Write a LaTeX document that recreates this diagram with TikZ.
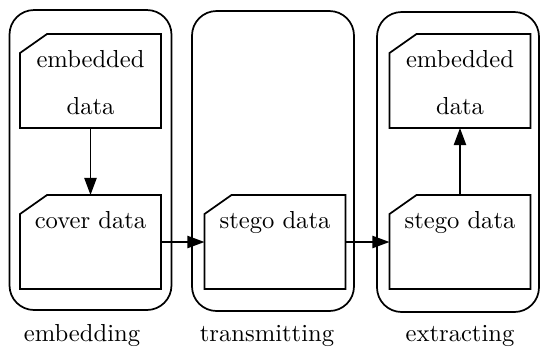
\documentclass[tikz,border=0pt]{standalone}
\usetikzlibrary{arrows.meta}

\begin{document}
\begin{tikzpicture}[x=0.4065pt, y=-0.4065pt,
	stage/.style={draw, line width=0.7pt, rounded corners=10pt, minimum width=162*\px, minimum height=300*\px},
	doc/.style={minimum width=140*\px, minimum height=93*\px, inner sep=0pt},
	doctext/.style={anchor=north, align=center, inner sep=0pt, yshift=-16*\px},
	flow/.style={line width=0.7pt, -{Triangle[length=7pt, width=5pt]}}]

\def\px{0.4065pt}

\path [use as bounding box] (0,0) rectangle (540,347);

% STAGES
\node [stage] (embedding) at (90.5,160) {};
\node [stage] (transmitting) at (273,161) {};
\node [stage] (extracting) at (458,162) {};

% DOCUMENTS
\node [doc, label={[doctext]north:embedded\\[7pt]data}] (secret) at (90.5,81) {};
\node [doc, label={[doctext]north:cover data}] (cover) at (90.5,242) {};
\node [doc, label={[doctext]north:stego data}] (stego) at (275,242) {};
\node [doc, label={[doctext]north:stego data}] (received) at (460,242) {};
\node [doc, label={[doctext]north:embedded\\[7pt]data}] (recovered) at (460,81) {};

% folded corner outlines
\draw [line width=0.7pt] (secret.north west) ++(0,19) -- ++(27,-19) -- (secret.north east) |- (secret.south west) -- cycle;
\draw [line width=0.7pt] (cover.north west) ++(0,19) -- ++(27,-19) -- (cover.north east) |- (cover.south west) -- cycle;
\draw [line width=0.7pt] (stego.north west) ++(0,19) -- ++(27,-19) -- (stego.north east) |- (stego.south west) -- cycle;
\draw [line width=0.7pt] (received.north west) ++(0,19) -- ++(27,-19) -- (received.north east) |- (received.south west) -- cycle;
\draw [line width=0.7pt] (recovered.north west) ++(0,19) -- ++(27,-19) -- (recovered.north east) |- (recovered.south west) -- cycle;

% FLOW
\draw [flow] (secret.south) -- (cover.north);
\draw [flow] (cover.east) -- (stego.west);
\draw [flow] (stego.east) -- (received.west);
\draw [flow] (received.north) -- (recovered.south);

% NAMES
\node [anchor=base] (embname) at (82,341) {embedding};
\node [anchor=base] (transname) at (267,341) {transmitting};
\node [anchor=base] (extrname) at (460,341) {extracting};

\end{tikzpicture}
\end{document}
